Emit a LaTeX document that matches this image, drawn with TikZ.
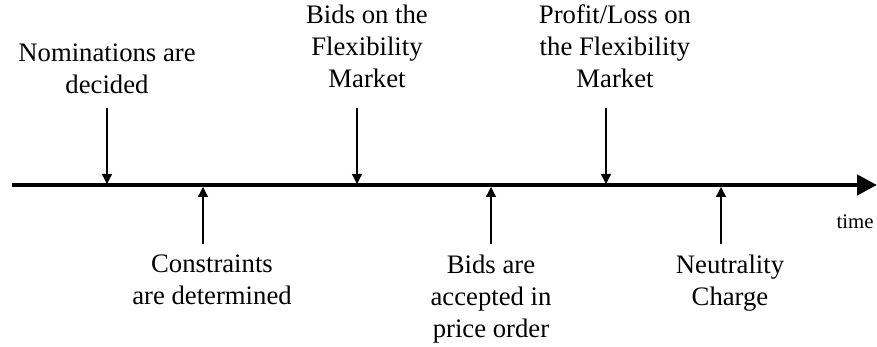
\documentclass[tikz,border=0pt]{standalone}
\usepackage{fontspec}
\setmainfont{Liberation Serif}
\usetikzlibrary{arrows.meta}
\begin{document}
\begin{tikzpicture}[x=1pt,y=1pt,
    label/.style={align=center,font=\fontsize{26.7}{32}\selectfont,inner sep=0pt},
    tick/.style={line width=1.3pt,-{Triangle[width=10pt,length=10pt]}},
    axis/.style={line width=4.5pt,-{Triangle[width=20pt,length=20pt]}}]
      \useasboundingbox (0,0) rectangle (877,347);
      \draw
        (107,278) node[label] (nom){Nominations are\\decided}
        (367,301) node[label] (bids){Bids on the\\Flexibility\\Market}
        (615,301) node[label] (pl){Profit/Loss on\\the Flexibility\\Market}
        (212,67) node[label] (cons){Constraints\\are determined}
        (491,48) node[label] (acc){Bids are\\accepted in\\price order}
        (730,64) node[label] (neut){Neutrality\\Charge}
        (855,125) node[inner sep=0pt,font=\fontsize{20.8}{24}\selectfont] (time){time};
      \coordinate (t0) at (12,162);
      \coordinate (t1) at (877,162);
      % arrows from the labels to the time line
      \coordinate (nom-a) at (107,239);  \coordinate (nom-t) at (107,163);
      \coordinate (bids-a) at (357,239); \coordinate (bids-t) at (357,163);
      \coordinate (pl-a) at (606,239);   \coordinate (pl-t) at (606,163);
      \coordinate (cons-a) at (203,103); \coordinate (cons-t) at (203,160);
      \coordinate (acc-a) at (491,103);  \coordinate (acc-t) at (491,160);
      \coordinate (neut-a) at (721,103); \coordinate (neut-t) at (721,160);
      \draw[axis] (t0) to (t1);
      \begin{scope}[tick]
        \draw (nom-a) to (nom-t);
        \draw (bids-a) to (bids-t);
        \draw (pl-a) to (pl-t);
        \draw (cons-a) to (cons-t);
        \draw (acc-a) to (acc-t);
        \draw (neut-a) to (neut-t);
      \end{scope}
    \end{tikzpicture}
\end{document}
